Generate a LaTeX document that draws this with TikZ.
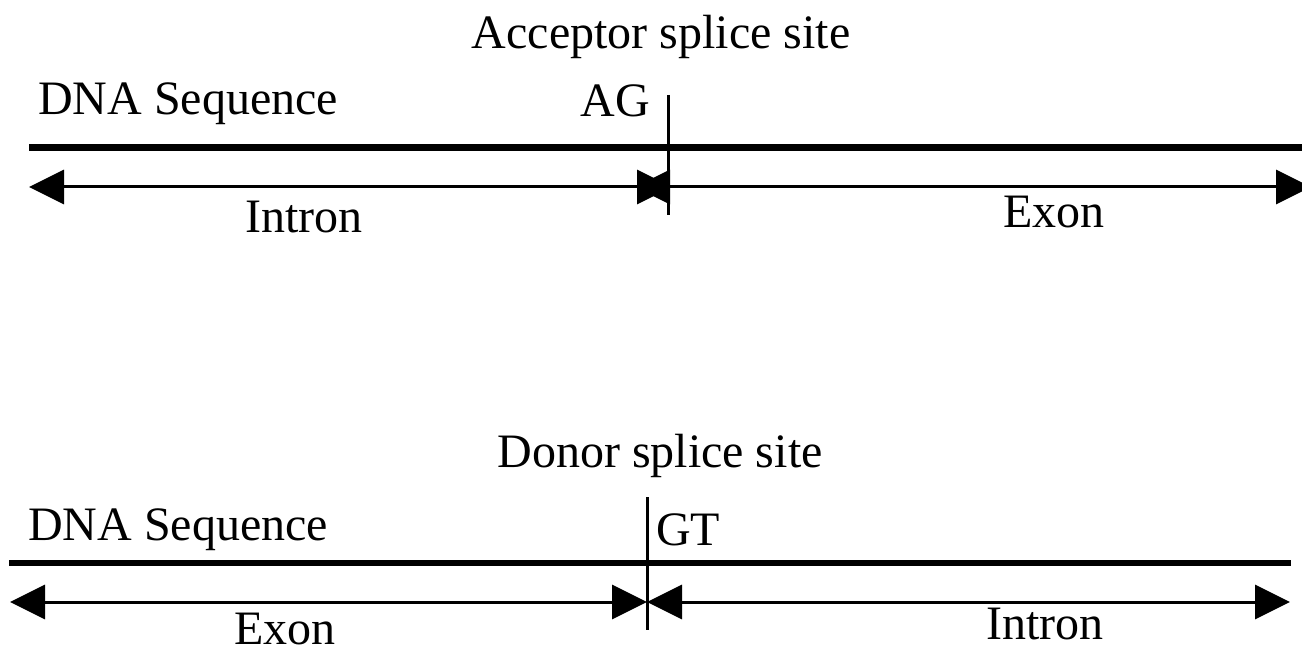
\documentclass[tikz,border=0pt]{standalone}
\usepackage{fontspec}
\setmainfont{Liberation Serif}
\usetikzlibrary{arrows.meta}
\begin{document}
\begin{tikzpicture}[x=1pt,y=-1pt,
  lbl/.style={inner sep=0pt, font=\fontsize{48}{58}\selectfont},
  dna/.style={line width=6.5pt},
  span/.style={line width=3pt, {Triangle[length=35pt,width=34pt]}-{Triangle[length=35pt,width=34pt]}},
  site/.style={line width=3pt}]
\clip (0,0) rectangle (1302,652);
% ---- acceptor ----
\node[lbl, anchor=base] (acc) at (661,49) {Acceptor splice site};
\node[lbl, anchor=base west] (dna1) at (38,115) {DNA Sequence};
\node[lbl, anchor=base east] (ag) at (650,117) {AG};
\coordinate (s1a) at (29,147.5);
\coordinate (s1b) at (1310,147.5);
\draw[dna] (s1a) -- (s1b);
\coordinate (v1a) at (668,95);
\coordinate (v1b) at (668,215);
\draw[site] (v1a) -- (v1b);
\coordinate (i1a) at (29,187);
\coordinate (i1b) at (672,187);
\draw[span] (i1a) -- (i1b);
\coordinate (e1a) at (635,187);
\coordinate (e1b) at (1311,187);
\draw[span] (e1a) -- (e1b);
\node[lbl, anchor=base] (intron1) at (304,233) {Intron};
\node[lbl, anchor=base] (exon1) at (1054,228) {Exon};
% ---- donor ----
\node[lbl, anchor=base] (don) at (660,467) {Donor splice site};
\node[lbl, anchor=base west] (dna2) at (28,540) {DNA Sequence};
\node[lbl, anchor=base west] (gt) at (656,545) {GT};
\coordinate (s2a) at (9,563);
\coordinate (s2b) at (1291,563);
\draw[dna] (s2a) -- (s2b);
\coordinate (v2a) at (647,497);
\coordinate (v2b) at (647,630);
\draw[site] (v2a) -- (v2b);
\coordinate (e2a) at (10,602);
\coordinate (e2b) at (647,602);
\draw[span] (e2a) -- (e2b);
\coordinate (i2a) at (647,602);
\coordinate (i2b) at (1290,602);
\draw[span] (i2a) -- (i2b);
\node[lbl, anchor=base, text depth=0pt] (exon2) at (285,644) {Exon};
\node[lbl, anchor=base, text depth=0pt] (intron2) at (1045,639) {Intron};
\end{tikzpicture}
\end{document}
